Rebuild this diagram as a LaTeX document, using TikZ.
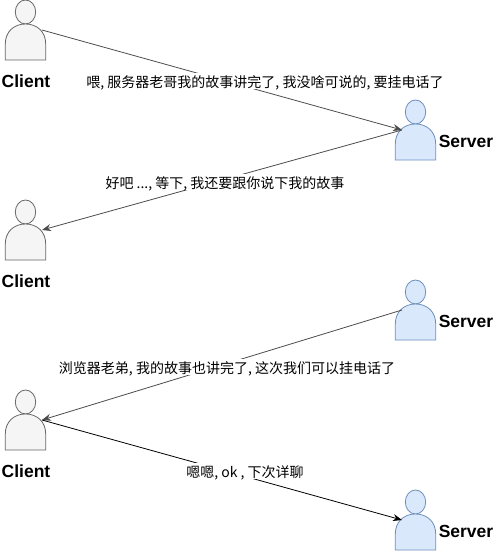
\documentclass[tikz,border=0pt]{standalone}
\usepackage{fontspec}
\usetikzlibrary{arrows.meta}
\setmainfont{Liberation Sans}
\newfontfamily\cjk{Noto Sans CJK SC}
\definecolor{clientline}{HTML}{666666}
\definecolor{clientfill}{HTML}{F5F5F5}
\definecolor{serverline}{HTML}{6C8EBF}
\definecolor{serverfill}{HTML}{DAE8FC}
\tikzset{
  person/.pic={
    \draw[pic actions] (0,12) ellipse (10.2 and 12);
    \draw[pic actions] (-20.2,60) -- (-20.2,44) .. controls (-20.2,32) and (-12,24) .. (0,24) .. controls (12,24) and (20.2,32) .. (20.2,44) -- (20.2,60) -- cycle;
    \coordinate (-left) at (-13.5,30);
    \coordinate (-right) at (16.5,30);
  },
  clientpic/.style={draw=clientline, fill=clientfill, line width=0.8pt},
  serverpic/.style={draw=serverline, fill=serverfill, line width=0.8pt},
  who/.style={font=\bfseries\fontsize{17.5}{19}\selectfont, inner sep=0pt},
  msg/.style={font=\cjk\fontsize{14}{16}\selectfont, fill=white, inner xsep=1pt, inner ysep=0pt, text height=14pt, text depth=2pt},
  link/.style={draw=black!70, line width=0.8pt, ->},
}
\begin{document}
\begin{tikzpicture}[>={Stealth[length=9pt,width=7pt]}, x=1pt, y=-1pt]
  \useasboundingbox (0,0) rectangle (494,551);
  % people, top to bottom
  \pic[clientpic] (c1) at (25.5,0) {person};
  \pic[serverpic] (s1) at (415.5,100) {person};
  \pic[clientpic] (c2) at (25.5,200) {person};
  \pic[serverpic] (s2) at (415.5,280) {person};
  \pic[clientpic] (c3) at (25.5,390) {person};
  \pic[serverpic] (s3) at (415.5,490) {person};
  \node[who] (c1name) at (26,81) {Client};
  \node[who] (s1name) at (466,141) {Server};
  \node[who] (c2name) at (26,281) {Client};
  \node[who] (s2name) at (466,321) {Server};
  \node[who] (c3name) at (26,471) {Client};
  \node[who] (s3name) at (466,531) {Server};
  % messages
  \draw[link] (c1-right) -- (s1-left);
  \draw[link] (s1-left) -- (c2-right);
  \draw[link] (s2-left) -- (c3-right);
  \draw[link, draw=black] (c3-right) -- (s3-left);
  \node[msg] (m1) at (265,81) {喂, 服务器老哥我的故事讲完了, 我没啥可说的, 要挂电话了};
  \node[msg] (m2) at (225,182) {好吧 ..., 等下, 我还要跟你说下我的故事};
  \node[msg] (m3) at (227,367) {浏览器老弟, 我的故事也讲完了, 这次我们可以挂电话了};
  \node[msg] (m4) at (245,471) {嗯嗯, ok , 下次详聊};
\end{tikzpicture}
\end{document}
